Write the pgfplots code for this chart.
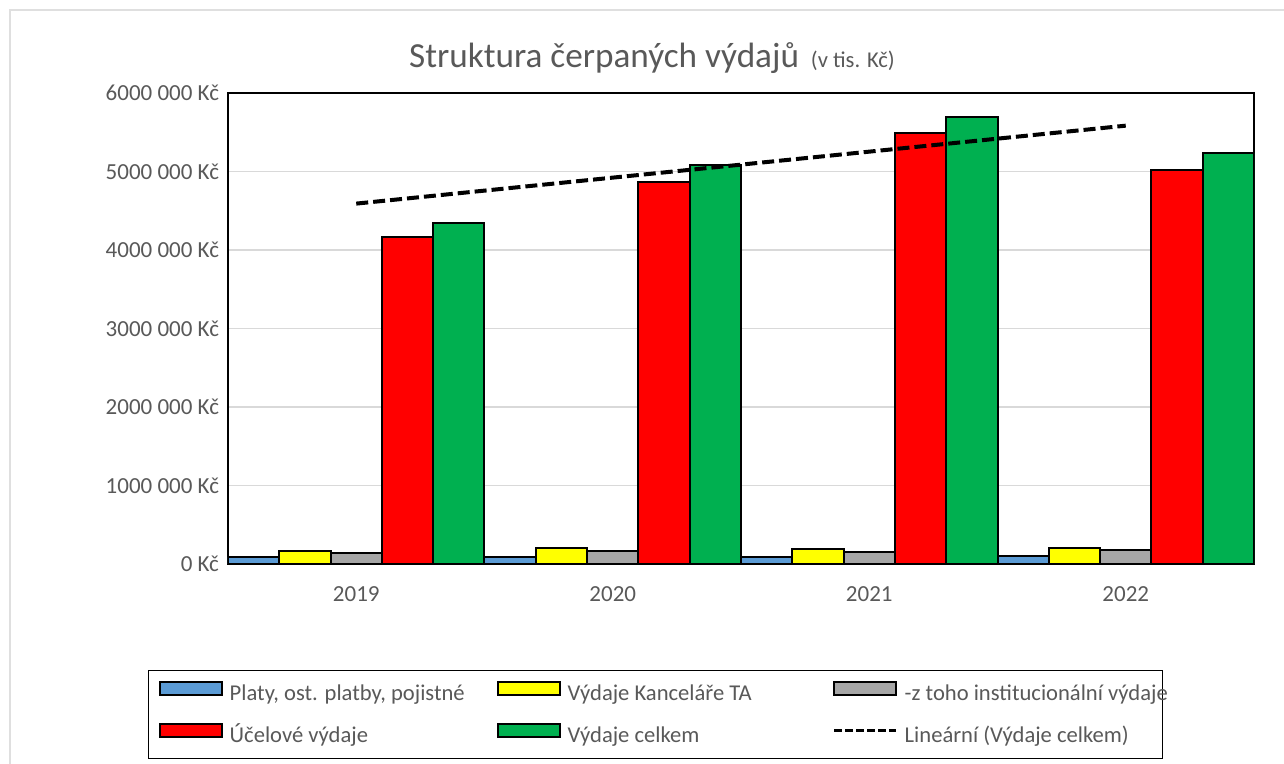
\documentclass[border=0pt]{standalone}
\usepackage{fontspec}
\setmainfont{Carlito}
\usepackage{pgfplots}
\pgfplotsset{compat=1.18}
\definecolor{txtgray}{RGB}{89,89,89}
\definecolor{cblue}{RGB}{91,155,213}
\definecolor{cyellow}{RGB}{255,255,0}
\definecolor{cgray}{RGB}{166,166,166}
\definecolor{cred}{RGB}{255,0,0}
\definecolor{cgreen}{RGB}{0,176,80}
\pgfplotsset{
  barlegend/.style={legend image code/.code={\draw[#1, line width=1pt] (0pt,0pt) rectangle (31pt,6.5pt);}},
  linelegend/.style={legend image code/.code={\draw[#1, line width=1.5pt, dash pattern=on 4pt off 1.5pt] (0pt,3.25pt) -- (31pt,3.25pt);}},
}
\begin{document}
\begin{tikzpicture}
\useasboundingbox (-114pt,-100pt) rectangle (528pt,282pt);
\draw[gray!25, line width=0.75pt] (-109pt,277pt) rectangle (540pt,-110pt);
\node[anchor=base, text=txtgray] at (212pt,248pt) {\fontsize{17.6}{20}\selectfont Struktura čerpaných výdajů\hspace{6pt}\fontsize{11.3}{13}\selectfont(v tis. Kč)};
\begin{axis}[
  scale only axis,
  width=513pt, height=235.5pt,
  xmin=-0.5, xmax=3.5,
  ymin=0, ymax=6000000,
  xtick={0,1,2,3},
  xticklabels={2019,2020,2021,2022},
  ytick={0,1000000,2000000,3000000,4000000,5000000,6000000},
  yticklabels={0 Kč,1000 000 Kč,2000 000 Kč,3000 000 Kč,4000 000 Kč,5000 000 Kč,6000 000 Kč},
  scaled y ticks=false,
  major tick length=0pt,
  ymajorgrids,
  grid style={gray!30, line width=0.75pt},
  axis line style={black, line width=1pt},
  tick label style={font=\fontsize{11.5}{13}\selectfont, text=txtgray},
  xticklabel style={yshift=-8pt},
  yticklabel style={xshift=-1pt},
  legend columns=3,
  legend cell align=left,
  legend style={
    at={(-0.078,-0.225)}, anchor=north west,
    draw=black, line width=0.75pt,
    inner xsep=5pt, inner ysep=5pt,
    font=\fontsize{11.3}{13}\selectfont, text=txtgray,
    nodes={inner sep=0pt, text height=8.5pt, text depth=3pt},
    row sep=8.5pt,
    /tikz/every odd column/.style={column sep=3.5pt},
    /tikz/every even column/.style={column sep=0pt},
  },
]
\addplot[ybar, bar width=0.2, bar shift=-0.4, fill=cblue, draw=black, line width=1pt, barlegend]
  coordinates {(0,93000) (1,93000) (2,93000) (3,106000)};
\addlegendentry{\makebox[133.5pt][l]{Platy, ost. platby, pojistné}}
\addplot[ybar, bar width=0.2, bar shift=-0.2, fill=cyellow, draw=black, line width=1pt, barlegend]
  coordinates {(0,170000) (1,208000) (2,191000) (3,208000)};
\addlegendentry{\makebox[132.5pt][l]{Výdaje Kanceláře TA}}
\addplot[ybar, bar width=0.2, bar shift=0, fill=cgray, draw=black, line width=1pt, barlegend]
  coordinates {(0,144000) (1,170000) (2,157000) (3,178000)};
\addlegendentry{\makebox[124pt][l]{-z toho institucionální výdaje}}
\addplot[ybar, bar width=0.2, bar shift=0.2, fill=cred, draw=black, line width=1pt, barlegend]
  coordinates {(0,4170000) (1,4870000) (2,5490000) (3,5020000)};
\addlegendentry{\makebox[133.5pt][l]{Účelové výdaje}}
\addplot[ybar, bar width=0.2, bar shift=0.4, fill=cgreen, draw=black, line width=1pt, barlegend]
  coordinates {(0,4350000) (1,5080000) (2,5690000) (3,5240000)};
\addlegendentry{\makebox[132.5pt][l]{Výdaje celkem}}
\addplot[sharp plot, black, line width=2pt, dash pattern=on 6pt off 2.5pt, no marks, linelegend]
  coordinates {(0,4591000) (3,5584000)};
\addlegendentry{\makebox[124pt][l]{Lineární (Výdaje celkem)}}
\end{axis}
\end{tikzpicture}
\end{document}
